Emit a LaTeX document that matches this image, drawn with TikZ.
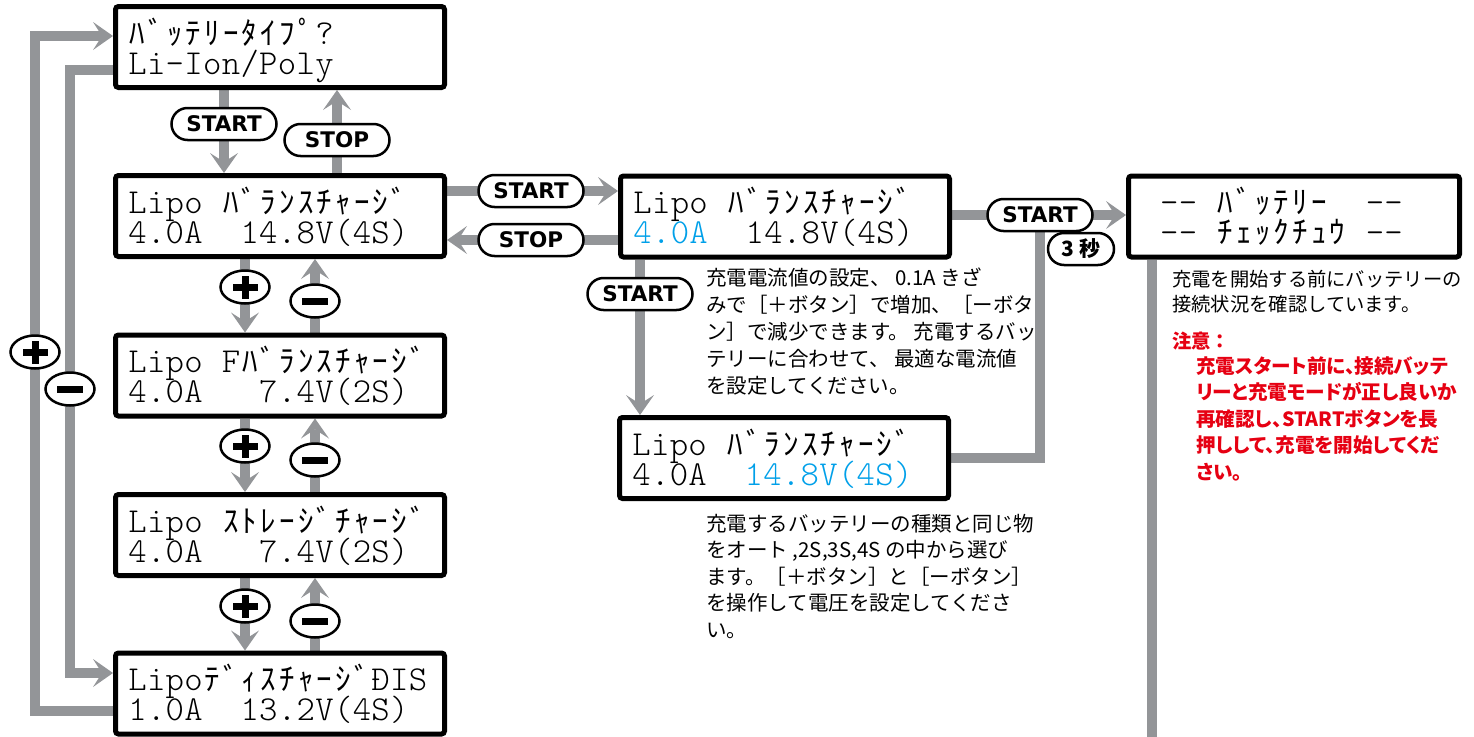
\documentclass[tikz,border=0pt]{standalone}
\usepackage{fontspec}
\usetikzlibrary{arrows.meta,shapes.geometric,shapes.misc,backgrounds,calc}
\newfontfamily\jpfont{Noto Sans CJK JP}
\newfontfamily\jpfontp{Noto Sans CJK JP}[RawFeature=+palt]
\newfontfamily\lcdfont{lmmonolt10-regular.otf}
\newfontfamily\pillfont{DejaVu Sans}
\definecolor{lgray}{RGB}{147,149,152}
\definecolor{lcdblue}{RGB}{0,160,233}
\definecolor{warnred}{RGB}{230,0,18}
\newlength\lcdcw \setlength\lcdcw{18.7pt}
\def\jplcd{\jpfont\fontsize{31}{31}\selectfont}
\def\lcdloop#1{\ifx\relax#1\else\lcdchar{#1}\expandafter\lcdloop\fi}
\def\lcdchar#1{\ifx_#1\hbox to\lcdcw{}\else\ifnum`#1>"FF00 \hbox to\lcdcw{\hss\jplcd#1\hss}\else\hbox to\lcdcw{\hss#1\hss}\fi\fi}
\newcommand\lcd[1]{\lcdloop#1\relax}
\newcommand\lcdtext[3]{%
  \node[lcdtxt] (#1a) at ([xshift=15pt,yshift=-40pt]#1.north west) {#2};
  \node[lcdtxt] (#1b) at ([xshift=15pt,yshift=-70pt]#1.north west) {#3};}
\begin{document}
\begin{tikzpicture}[x=1pt,y=-1pt,
  lcdbox/.style={draw=black, fill=white, line width=5pt, rounded corners=3pt,
    minimum width=329pt, minimum height=81pt, inner sep=0pt},
  lcdtxt/.style={anchor=base west, inner sep=0pt, text height=25pt, text depth=4pt,
    font=\lcdfont\fontsize{35}{35}\selectfont},
  pill/.style={rounded rectangle, draw=black, fill=white, line width=2.5pt,
    minimum width=105pt, minimum height=32pt, inner sep=0pt,
    font=\pillfont\bfseries\fontsize{21.5}{21.5}\selectfont},
  secpill/.style={pill, minimum width=66pt, font=\jpfont\bfseries\fontsize{21}{21}\selectfont},
  pm/.style={ellipse, draw=black, fill=white, line width=2.5pt,
    minimum width=49pt, minimum height=33pt, inner sep=0pt},
  plusc/.style={pm, path picture={
    \fill[black] ([xshift=-12.5pt,yshift=-3.5pt]path picture bounding box.center) rectangle ([xshift=12.5pt,yshift=3.5pt]path picture bounding box.center);
    \fill[black] ([xshift=-3.5pt,yshift=-11.5pt]path picture bounding box.center) rectangle ([xshift=3.5pt,yshift=11.5pt]path picture bounding box.center);}},
  minusc/.style={pm, path picture={
    \fill[black] ([xshift=-13pt,yshift=-3.5pt]path picture bounding box.center) rectangle ([xshift=13pt,yshift=3.5pt]path picture bounding box.center);}},
  line/.style={draw=lgray, line width=10pt},
  conn/.style={line, -{Stealth[length=20pt,width=28pt,inset=9pt,line width=0pt]}},
  desc/.style={anchor=base west, inner sep=0pt, align=left},
]
\useasboundingbox (0,0) rectangle (1474,736);
% LCD boxes
\node[lcdbox] (b1) at (280,47) {};
\node[lcdbox] (b2) at (280,216) {};
\node[lcdbox] (b3) at (280,375.5) {};
\node[lcdbox] (b4) at (280,535) {};
\node[lcdbox] (b5) at (280,693.5) {};
\node[lcdbox] (b6) at (785,216.5) {};
\node[lcdbox] (b7) at (784,458) {};
\node[lcdbox, minimum width=331pt] (b8) at (1294,216.5) {};
\lcdtext{b1}{\lcd{ﾊﾞｯﾃﾘｰﾀｲﾌﾟ?}}{\lcd{Li-Ion/Poly}}
\lcdtext{b2}{\lcd{Lipo_ﾊﾞﾗﾝｽﾁｬｰｼﾞ}}{\lcd{4.0A__14.8V(4S)}}
\lcdtext{b3}{\lcd{Lipo_Fﾊﾞﾗﾝｽﾁｬｰｼﾞ}}{\lcd{4.0A___7.4V(2S)}}
\lcdtext{b4}{\lcd{Lipo_ｽﾄﾚｰｼﾞﾁｬｰｼﾞ}}{\lcd{4.0A___7.4V(2S)}}
\lcdtext{b5}{\lcd{LipoﾃﾞｨｽﾁｬｰｼﾞĐIS}}{\lcd{1.0A__13.2V(4S)}}
\lcdtext{b6}{\lcd{Lipo_ﾊﾞﾗﾝｽﾁｬｰｼﾞ}}{{\color{lcdblue}\lcd{4.0A}}\lcd{__14.8V(4S)}}
\lcdtext{b7}{\lcd{Lipo_ﾊﾞﾗﾝｽﾁｬｰｼﾞ}}{\lcd{4.0A__}{\color{lcdblue}\lcd{14.8V(4S)}}}
\lcdtext{b8}{\lcd{_--_ﾊﾞｯﾃﾘｰ__--}}{\lcd{_--_ﾁｪｯｸﾁｭｳ_--}}
% buttons
\node[pill] (s1) at (224,124) {START};
\node[pill] (t1) at (337,140) {STOP};
\node[pill] (s2) at (531,191) {START};
\node[pill] (t2) at (531,240) {STOP};
\node[pill] (s3) at (640,294) {START};
\node[pill] (s4) at (1040,215) {START};
\node[secpill] (sec) at (1081,249) {3 秒};
\node[plusc] (p1) at (245,287) {};
\node[minusc] (m1) at (315,301) {};
\node[plusc] (p2) at (245,446) {};
\node[minusc] (m2) at (315,460) {};
\node[plusc] (p3) at (245,606) {};
\node[minusc] (m3) at (315,621) {};
\node[plusc] (pl) at (35,352) {};
\node[minusc] (ml) at (70,389) {};
% route corners
\coordinate (o1) at (35,711);
\coordinate (o2) at (35,36);
\coordinate (i1) at (70,70);
\coordinate (i2) at (70,673);
\coordinate (r1) at (1040,458);
\coordinate (d1) at (1152,740);
% descriptions (anchor = baseline of the last line)
\node[desc, font=\jpfont\fontsize{20.5}{27}\selectfont] (tx1) at (706,393)
 {充電電流値の設定、 0.1A きざ\\みで［＋ボタン］で増加、［ーボタ\\ン］で減少できます。 充電するバッ\\テリーに合わせて、 最適な電流値\\を設定してください。};
\node[desc, font=\jpfont\fontsize{20.5}{26.6}\selectfont] (tx2) at (706,637.4)
 {充電するバッテリーの種類と同じ物\\をオート ,2S,3S,4S の中から選び\\ます。［＋ボタン］と［ーボタン］\\を操作して電圧を設定してくださ\\い。};
\node[desc, font=\jpfont\fontsize{19.3}{25.5}\selectfont] (tx3) at (1172,311.5)
 {充電を開始する前にバッテリーの\\接続状況を確認しています。};
\node[desc, text=warnred, font=\jpfont\bfseries\fontsize{19.3}{26.6}\selectfont] (tx4) at (1172,348)
 {注意：};
\node[desc, text=warnred, font=\jpfontp\bfseries\fontsize{19.6}{26.6}\selectfont] (tx5) at (1196,479.4)
 {充電スタート前に、接続バッテ\\リーと充電モードが正し良いか\\再確認し、STARTボタンを長\\押しして、充電を開始してくだ\\さい。};
% connectors
\begin{pgfonlayer}{background}
\fill[white] (0,0) rectangle (1474,736);
\draw[conn] (b1.south -| s1) -- (b2.north -| s1);
\draw[conn] (b2.north -| t1) -- (b1.south -| t1);
\draw[conn] (b2.south -| p1) -- (b3.north -| p1);
\draw[conn] (b3.north -| m1) -- (b2.south -| m1);
\draw[conn] (b3.south -| p2) -- (b4.north -| p2);
\draw[conn] (b4.north -| m2) -- (b3.south -| m2);
\draw[conn] (b4.south -| p3) -- (b5.north -| p3);
\draw[conn] (b5.north -| m3) -- (b4.south -| m3);
\draw[conn] (b5.west |- o1) -- (o1) -- (o2) -- (b1.west |- o2);
\draw[conn] (b1.west |- i1) -- (i1) -- (i2) -- (b5.west |- i2);
\draw[conn] (b2.east |- s2) -- (b6.west |- s2);
\draw[conn] (b6.west |- t2) -- (b2.east |- t2);
\draw[conn] (b6.south -| s3) -- (b7.north -| s3);
\draw[conn] (b6.east |- s4) -- (b8.west |- s4);
\draw[line] (b7.east |- r1) -- (r1) -- (s4.center);
\draw[line] (b8.south -| d1) -- (d1);
\end{pgfonlayer}
\end{tikzpicture}
\end{document}
